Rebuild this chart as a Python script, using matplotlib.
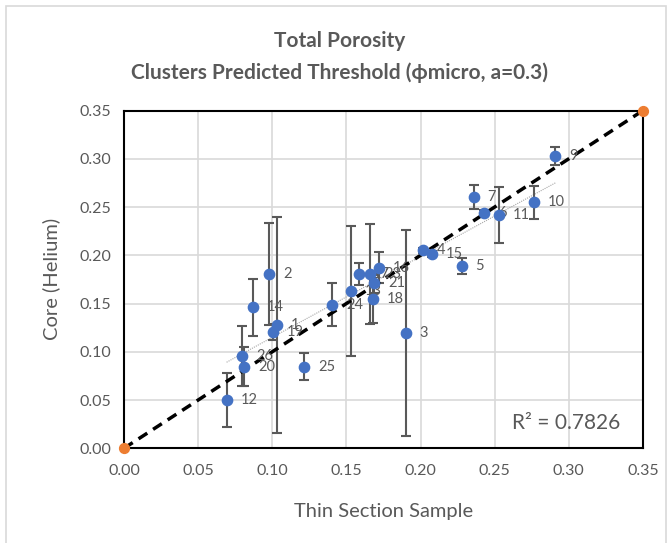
import numpy as np
import matplotlib.pyplot as plt
from matplotlib.patches import Rectangle

plt.rcParams['font.family'] = ['Lato', 'DejaVu Sans']

# sample number, thin section porosity, core (helium) porosity, error
labels = ['12', '26', '20', '14', '2', '19', '1', '25', '24', '13', '17', '23',
          '21', '18', '16', '3', '4', '15', '5', '7', '6', '11', '10', '9']
thin = [0.0692, 0.0796, 0.0809, 0.0868, 0.0980, 0.1003, 0.1034, 0.1216, 0.1405,
        0.1529, 0.1585, 0.1659, 0.1686, 0.1681, 0.1720, 0.1900, 0.2018, 0.2079,
        0.2277, 0.2358, 0.2428, 0.2530, 0.2765, 0.2910]
core = [0.0500, 0.0957, 0.0847, 0.1459, 0.1805, 0.1203, 0.1280, 0.0847, 0.1487,
        0.1630, 0.1805, 0.1808, 0.1710, 0.1546, 0.1873, 0.1195, 0.2050, 0.2012,
        0.1890, 0.2604, 0.2438, 0.2420, 0.2548, 0.3032]
err = [0.0277, 0.0310, 0.0200, 0.0295, 0.0530, 0.0080, 0.1120, 0.0140, 0.0225,
       0.0670, 0.0110, 0.0520, 0.0100, 0.0250, 0.0160, 0.1070, 0.0030, 0.0030,
       0.0080, 0.0120, 0.0030, 0.0290, 0.0170, 0.0095]
ends_x = [0.0, 0.35]
ends_y = [0.0, 0.35]
r2_text = 'R² = 0.7826'

gray = '#595959'
fig = plt.figure(figsize=(6.72, 5.43), dpi=100)
ax = fig.add_axes([0.1845, 0.1744, 0.7723, 0.6221])

ax.errorbar(thin, core, yerr=err, fmt='none', ecolor=gray, elinewidth=1.5,
            capsize=3.5, capthick=1.5, zorder=3)

# linear trendline over the data range
k, b = np.polyfit(thin, core, 1)
tx = np.array([min(thin), max(thin)])
ax.plot(tx, k * tx + b, color='#a6a6a6', lw=0.8, ls=(0, (1, 1)), zorder=2)

ax.plot(ends_x, ends_y, color='black', lw=2.5, ls=(0, (3, 2)), zorder=4)
ax.scatter(thin, core, s=55, color='#4472C4', zorder=5)
ax.scatter(ends_x, ends_y, s=50, color='#ED7D31', zorder=6, clip_on=False)

for lab, x, y in zip(labels, thin, core):
    ax.annotate(lab, (x, y), xytext=(10, 0), textcoords='offset points',
                va='center', ha='left', fontsize=10.5, color=gray, zorder=4)

ax.text(0.335, 0.016, r2_text, ha='right', va='bottom', fontsize=15, color=gray)

ax.set_xlim(0, 0.35)
ax.set_ylim(0, 0.35)
ticks = np.arange(0, 0.351, 0.05)
ax.set_xticks(ticks)
ax.set_yticks(ticks)
ax.set_xticklabels(['%.2f' % t for t in ticks])
ax.set_yticklabels(['%.2f' % t for t in ticks])
ax.tick_params(length=0, labelsize=11.5, colors=gray)
ax.tick_params(axis='x', pad=11)
ax.tick_params(axis='y', pad=9)
ax.grid(True, color='#d9d9d9', lw=1.2)
ax.set_axisbelow(True)
for s in ax.spines.values():
    s.set_color('black')
    s.set_linewidth(1.5)

ax.set_xlabel('Thin Section Sample', fontsize=14.5, color=gray, labelpad=18)
ax.set_ylabel('Core (Helium)', fontsize=14.5, color=gray, labelpad=14)

fig.text(0.505, 0.925, 'Total Porosity', ha='center', va='center',
         fontsize=15, fontweight='bold', color=gray)
fig.text(0.505, 0.866, 'Clusters Predicted Threshold (ϕmicro, a=0.3)',
         ha='center', va='center', fontsize=15, fontweight='bold', color=gray)

fig.patches.append(Rectangle((0.009, -0.05), 0.982, 1.039, transform=fig.transFigure,
                             fill=False, edgecolor='#d9d9d9', lw=1.2))

fig.savefig('out.png', dpi=100)
